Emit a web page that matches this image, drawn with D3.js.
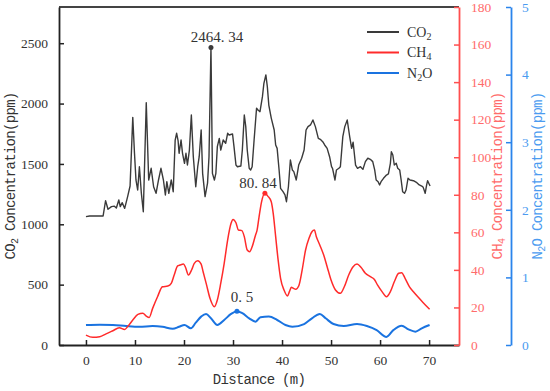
<!DOCTYPE html>
<html>
<head>
<meta charset="utf-8">
<script src="https://cdn.jsdelivr.net/npm/d3@7"></script>
<style>
  body { margin: 0; background: #fff; }
  svg { display: block; }
</style>
</head>
<body>
<div id="chart"></div>
<script>
// CO2 series (distance in m, concentration in ppm)
var co2Distance = [0,0.75,3.5,4.0,4.5,5.2,5.8,6.2,6.7,7.0,7.4,7.9,8.5,9.0,9.55,9.9,10.2,10.55,10.9,11.3,11.7,12.3,12.8,13.3,13.8,14.3,14.8,15.3,15.8,16.2,16.5,16.9,17.4,17.8,18.2,18.5,18.8,19.0,19.4,19.7,20.1,20.4,20.7,21.1,21.5,21.9,22.4,22.8,23.1,23.5,23.8,24.3,24.8,25.1,25.5,25.8,26.2,26.5,26.8,27.2,27.5,28.0,28.5,28.9,29.2,29.9,30.2,30.6,30.9,31.6,31.9,32.3,32.6,32.9,33.3,33.6,33.9,34.3,34.8,35.1,35.5,36.0,36.3,36.7,37.0,37.3,37.8,38.4,38.7,39.0,39.4,39.7,40.2,40.6,40.9,41.3,41.7,42.1,42.4,42.9,43.4,44.0,44.5,44.9,45.3,45.8,46.3,46.8,47.4,47.8,48.3,48.7,49.2,49.7,50.1,50.3,50.8,51.1,51.6,51.9,52.4,52.8,53.3,53.8,54.2,54.5,55.0,55.4,56.0,56.5,57.0,57.5,58.0,58.5,58.9,59.2,59.6,59.9,60.2,60.7,61.3,61.7,62.1,62.3,62.6,62.9,63.3,63.6,64.0,64.3,64.6,65.0,65.3,65.7,66.1,66.8,67.5,68.0,68.5,68.8,69.2,69.5,69.7,70.1,70.2];
var co2Values = [1063,1069,1069,1195,1124,1146,1150,1135,1201,1146,1179,1132,1229,1317,1886,1588,1367,1284,1477,1257,1104,2007,1367,1464,1311,1257,1367,1464,1367,1243,1353,1257,1367,1270,1698,1754,1690,1588,1698,1588,1505,1588,1491,1615,1905,1560,1311,1477,1560,1781,1422,1229,1340,1560,2464.34,1422,1367,1422,1643,1712,1615,1698,1671,1754,1740,1748,1643,1491,1477,1483,1615,1905,1809,1615,1464,1450,1477,1698,1961,1947,1933,2057,2168,2237,2140,1988,1880,1781,1657,1629,1450,1298,1270,1243,1187,1311,1533,1450,1436,1367,1491,1547,1615,1781,1809,1823,1864,1809,1712,1704,1684,1657,1629,1560,1477,1464,1367,1450,1464,1477,1726,1809,1864,1726,1629,1680,1490,1464,1477,1455,1519,1547,1538,1519,1450,1367,1353,1326,1353,1381,1408,1417,1505,1601,1574,1491,1505,1464,1450,1367,1270,1257,1284,1381,1367,1361,1345,1326,1317,1306,1257,1326,1361,1326,1317];

// CH4 series
var ch4Distance = [0,1.4,2.8,4.1,5.5,6.8,7.9,8.5,9.55,10.6,11.6,12.3,12.9,13.6,14.6,15.6,16.7,17.4,18.0,18.7,19.2,19.9,20.3,20.9,21.6,22.1,22.8,23.5,23.9,24.6,25.3,26.2,26.8,27.5,28.2,28.9,29.6,30.0,30.6,31.1,31.8,32.3,32.9,33.4,33.9,34.6,34.9,35.3,35.8,36.5,37.1,37.8,38.2,38.7,39.2,39.7,40.4,41.1,41.5,41.9,42.3,42.8,43.4,44.1,44.8,45.5,46.1,46.6,47.0,47.7,48.5,49.2,50.0,50.9,51.9,52.7,53.6,54.5,55.3,56.1,57.0,58.0,58.8,59.5,60.4,61.3,62.1,62.9,63.8,64.4,65.1,66.0,66.8,67.8,68.8,70.1];
var ch4Values = [5.3,4.1,4.4,5.9,7.6,9.2,8.3,9.8,13.3,16.3,16.9,15.4,14.7,19.5,25.7,31.0,31.4,32.8,37.3,42.1,42.6,43.1,41.4,37.3,40.3,43.5,44.9,43.1,39.0,32.0,24.9,20.4,24.0,32.9,43.5,55.9,64.8,66.9,65.1,61.2,60.9,57.7,50.6,49.7,52.3,58.6,61.0,68.0,76.0,80.84,79.3,76.3,70.1,57.7,45.3,35.5,29.3,26.1,28.4,30.7,30.2,29.7,31.4,39.9,50.6,56.8,60.3,61.2,57.7,53.3,47.9,41.7,34.6,29.3,27.5,31.0,37.3,41.7,43.1,41.4,38.2,36.4,35.0,31.9,28.4,25.7,28.4,33.7,38.2,38.5,35.5,31.0,28.4,25.4,22.5,19.0];

// N2O series
var n2oDistance = [0,2.8,5.5,8.2,10.9,13.6,15.6,17.7,19.0,20.1,21.4,22.4,23.5,24.5,25.5,26.8,28.2,29.6,30.8,31.9,33.3,34.6,35.6,37.3,39.0,40.7,42.1,44.5,46.1,47.7,48.9,50.5,52.6,55.3,57.3,59.3,61.3,62.7,64.4,65.8,67.2,68.5,70.1];
var n2oValues = [0.296,0.30,0.296,0.28,0.27,0.28,0.27,0.24,0.27,0.296,0.247,0.33,0.42,0.46,0.395,0.296,0.37,0.46,0.5,0.47,0.395,0.345,0.41,0.42,0.37,0.296,0.27,0.31,0.395,0.46,0.395,0.31,0.28,0.31,0.28,0.22,0.12,0.22,0.285,0.23,0.197,0.247,0.296];

// tick labels
var xTicks = [0, 10, 20, 30, 40, 50, 60, 70];
var co2Ticks = [0, 500, 1000, 1500, 2000, 2500];
var ch4Ticks = [0, 20, 40, 60, 80, 100, 120, 140, 160, 180];
var n2oTicks = [0, 1, 2, 3, 4, 5];

// peak labels
var peakLabels = [
  { series: "co2", x: 25.5, y: 2464.34, text: "2464. 34" },
  { series: "ch4", x: 36.5, y: 80.84, text: "80. 84" },
  { series: "n2o", x: 30.8, y: 0.5, text: "0. 5" }
];

var W = 550, H = 391;
var plotLeft = 59, plotRight = 459, plotTop = 7, plotBottom = 345;

var colCO2 = "#3a3a3a", colCH4 = "#ff2b2b", colN2O = "#1a73e0";
var colRedAxis = "#ff4f4f", colRedText = "#ff6b6b";
var colBlueAxis = "#2a84ec", colBlueText = "#4b9bf0";

var svg = d3.select("#chart").append("svg")
  .attr("width", W)
  .attr("height", H);

var x = d3.scaleLinear().domain([-5.5, 76.1]).range([plotLeft, plotRight]);
var yCO2 = d3.scaleLinear().domain([0, 2800]).range([plotBottom, plotTop]);
var yCH4 = d3.scaleLinear().domain([0, 180]).range([plotBottom, plotTop]);
var yN2O = d3.scaleLinear().domain([0, 5]).range([plotBottom, plotTop]);

var serif = "Liberation Serif, Times New Roman, serif";
var mono = "Liberation Mono, DejaVu Sans Mono, monospace";

// top frame line
svg.append("line")
  .attr("x1", plotLeft).attr("x2", plotRight)
  .attr("y1", plotTop).attr("y2", plotTop)
  .attr("stroke", "#444").attr("stroke-width", 1.8);

// axes helper
function styleAxis(g, lineCol, textCol) {
  g.attr("font-family", serif).attr("font-size", 13.5);
  g.select(".domain").attr("stroke", lineCol).attr("stroke-width", 1.8);
  g.selectAll(".tick line").attr("stroke", lineCol).attr("stroke-width", 1.5);
  g.selectAll(".tick text").attr("fill", textCol);
}

// bottom axis (ticks inward)
var gx = svg.append("g")
  .attr("transform", "translate(0," + plotBottom + ")")
  .call(d3.axisBottom(x).tickValues(xTicks).tickSizeInner(-5).tickSizeOuter(0).tickPadding(10));
styleAxis(gx, "#222", "#333");

// left axis (ticks inward)
var gy = svg.append("g")
  .attr("transform", "translate(" + plotLeft + ",0)")
  .call(d3.axisLeft(yCO2).tickValues(co2Ticks).tickFormat(d3.format("d")).tickSizeInner(-5).tickSizeOuter(0).tickPadding(11));
styleAxis(gy, "#222", "#333");

// CH4 axis on the right edge, ticks point into plot
var gr = svg.append("g")
  .attr("transform", "translate(" + plotRight + ",0)")
  .call(d3.axisRight(yCH4).tickValues(ch4Ticks).tickFormat(d3.format("d")).tickSizeInner(-5).tickSizeOuter(0).tickPadding(12));
styleAxis(gr, colRedAxis, colRedText);

// N2O axis further right
var blueX = 511;
var gb = svg.append("g")
  .attr("transform", "translate(" + blueX + ",0)")
  .call(d3.axisRight(yN2O).tickValues(n2oTicks).tickFormat(d3.format("d")).tickSizeInner(-5).tickSizeOuter(0).tickPadding(11));
styleAxis(gb, colBlueAxis, colBlueText);

// lines
function makeSeries(xs, ys) {
  return xs.map(function (d, i) { return [d, ys[i]]; });
}

var lineCO2 = d3.line()
  .x(function (d) { return x(d[0]); })
  .y(function (d) { return yCO2(d[1]); });

var lineCH4 = d3.line()
  .curve(d3.curveMonotoneX)
  .x(function (d) { return x(d[0]); })
  .y(function (d) { return yCH4(d[1]); });

var lineN2O = d3.line()
  .curve(d3.curveMonotoneX)
  .x(function (d) { return x(d[0]); })
  .y(function (d) { return yN2O(d[1]); });

svg.append("path")
  .datum(makeSeries(n2oDistance, n2oValues))
  .attr("d", lineN2O)
  .attr("fill", "none").attr("stroke", colN2O).attr("stroke-width", 2);

svg.append("path")
  .datum(makeSeries(ch4Distance, ch4Values))
  .attr("d", lineCH4)
  .attr("fill", "none").attr("stroke", colCH4).attr("stroke-width", 1.5);

svg.append("path")
  .datum(makeSeries(co2Distance, co2Values))
  .attr("d", lineCO2)
  .attr("fill", "none").attr("stroke", colCO2).attr("stroke-width", 1.4)
  .attr("stroke-linejoin", "round");

// peak markers and labels
var scaleFor = { co2: yCO2, ch4: yCH4, n2o: yN2O };
var colorFor = { co2: colCO2, ch4: colCH4, n2o: colN2O };
var labelOffset = { co2: [6, -6], ch4: [-7, -5], n2o: [5, -9] };
peakLabels.forEach(function (p) {
  var px = x(p.x), py = scaleFor[p.series](p.y);
  svg.append("circle")
    .attr("cx", px).attr("cy", py).attr("r", 2.5)
    .attr("fill", colorFor[p.series]);
  svg.append("text")
    .attr("x", px + labelOffset[p.series][0])
    .attr("y", py + labelOffset[p.series][1])
    .attr("text-anchor", "middle")
    .attr("fill", "#333")
    .style("font-family", serif)
    .style("font-size", "15px")
    .text(p.text);
});

// legend
var legend = [
  { name: "CO", sub: "2", tail: "", color: colCO2 },
  { name: "CH", sub: "4", tail: "", color: colCH4 },
  { name: "N", sub: "2", tail: "O", color: colN2O }
];
legend.forEach(function (d, i) {
  var ly = 32 + i * 20.5;
  svg.append("line")
    .attr("x1", 367).attr("x2", 399)
    .attr("y1", ly).attr("y2", ly)
    .attr("stroke", d.color).attr("stroke-width", 2);
  var t = svg.append("text")
    .attr("x", 407).attr("y", ly + 4.5)
    .attr("fill", "#333")
    .style("font-family", serif)
    .style("font-size", "14px");
  t.append("tspan").text(d.name);
  t.append("tspan").attr("dy", 3).style("font-size", "10px").text(d.sub);
  if (d.tail) t.append("tspan").attr("dy", -3).text(d.tail);
});

// axis titles
svg.append("text")
  .attr("x", (plotLeft + plotRight) / 2).attr("y", 384)
  .attr("text-anchor", "middle")
  .attr("fill", "#333")
  .style("font-family", mono)
  .style("font-size", "14px")
  .style("letter-spacing", "-0.7px")
  .text("Distance (m)");

function rotatedTitle(cx, pre, sub, post, color) {
  var t = svg.append("text")
    .attr("transform", "translate(" + cx + "," + ((plotTop + plotBottom) / 2) + ") rotate(-90)")
    .attr("text-anchor", "middle")
    .attr("fill", color)
    .style("font-family", mono)
    .style("font-size", "14px")
    .style("letter-spacing", "-0.7px");
  t.append("tspan").text(pre);
  t.append("tspan").attr("dy", 3).style("font-size", "10px").text(sub);
  t.append("tspan").attr("dy", -3).text(post);
}

rotatedTitle(15, "CO", "2", " Concentration(ppm)", "#333");
rotatedTitle(502, "CH", "4", " Concentration(ppm)", colRedText);
rotatedTitle(542, "N", "2", "O Concentration(ppm)", colBlueText);
</script>
</body>
</html>
